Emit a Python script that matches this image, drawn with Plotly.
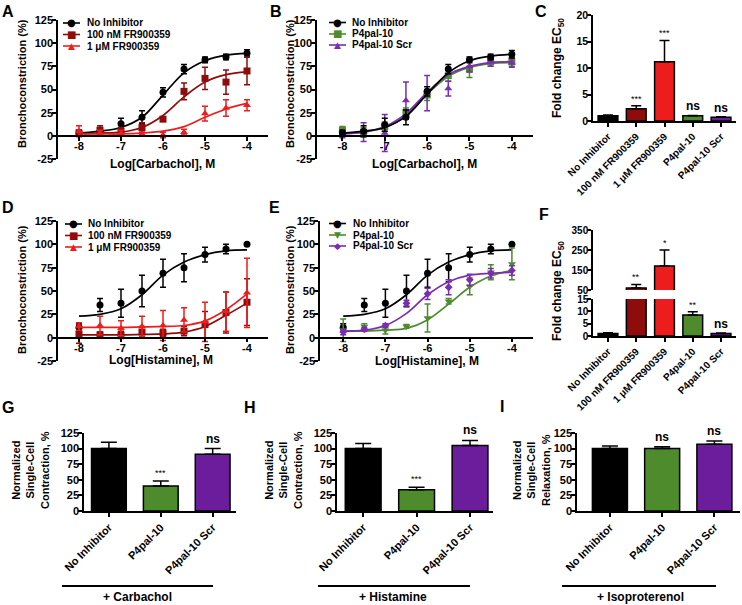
import plotly.graph_objects as go

W, H = 742, 605
FONT = "Liberation Sans, Arial, sans-serif"
SYMFONT = "DejaVu Sans"

BLACK = "#000000"
DRED = "#8e0c0c"
RED = "#ee1d1d"
GREEN = "#4d8b2c"
PURPLE = "#6b1d9c"
PURPLE_L = "#7a2db0"

# ---------------- data ----------------
log_conc = [-8, -7.5, -7, -6.5, -6, -5.5, -5, -4.5, -4]
log_ticks = [-8, -7, -6, -5, -4]
log_tick_text = ["-8", "-7", "-6", "-5", "-4"]
pct_ticks = [-25, 0, 25, 50, 75, 100, 125]
pct_tick_text = ["-25", "0", "25", "50", "75", "100", "125"]

# Panel A (carbachol, FR900359)
A_noinh = [3, 5, 13, 20, 47, 72, 82, 85, 89]
A_noinh_err = [3, 4, 6, 7, 5, 5, 3, 3, 4]
A_noinh_fit = [3, 5, 9, 20, 44, 68, 81, 87, 89]
A_100nm = [3, 6, 5, 9, 18, 48, 62, 58, 70]
A_100nm_err = [3, 5, 4, 5, 2, 9, 12, 13, 15]
A_100nm_fit = [2, 3, 4, 9, 22, 42, 58, 66, 69]
A_1um = [5, 3, 3, 2, 1, 4, 24, 30, 33]
A_1um_err = [6, 3, 3, 2, 3, 3, 8, 9, 6]
A_1um_fit = [2, 2, 2, 3, 5, 10, 20, 29, 35]

# Panel B (carbachol, P4pal-10)
B_noinh = [3, 5, 12, 20, 48, 72, 82, 85, 88]
B_noinh_err = [3, 6, 7, 8, 5, 5, 3, 3, 4]
B_noinh_fit = [3, 5, 9, 21, 45, 68, 81, 86, 88]
B_p4 = [6, 4, 10, 25, 44, 65, 72, 80, 80]
B_p4_err = [4, 5, 5, 5, 6, 6, 9, 5, 5]
B_p4_fit = [3, 4, 9, 22, 45, 64, 74, 78, 79]
B_scr = [2, 4, 3, 38, 46, 51, 75, 80, 79]
B_scr_err = [4, 10, 20, 20, 19, 8, 6, 5, 5]
B_scr_fit = [2, 4, 10, 24, 47, 66, 75, 79, 80]

# Panel D (histamine, FR900359)
D_noinh = [11, 35, 37, 50, 69, 75, 89, 95, 100]
D_noinh_err = [4, 7, 15, 17, 15, 15, 8, 5, 0]
D_noinh_fit = [23, 25, 31, 46, 67, 81, 89, 93, 94]
D_100nm = [4, 3, 3, 6, 5, 7, 14, 27, 38]
D_100nm_err = [10, 3, 4, 6, 4, 5, 14, 22, 25]
D_100nm_fit = [3, 3, 3, 3.5, 4, 6, 12, 24, 37]
D_1um = [12, 13, 10, 12, 13, 19, 17, 28, 48]
D_1um_err = [4, 10, 8, 11, 16, 13, 21, 21, 37]
D_1um_fit = [11, 11, 11, 11.5, 12, 13, 18, 30, 47]

# Panel E (histamine, P4pal-10)
E_p4 = [8, 12, 8, 12, 21, 39, 55, 70, 79]
E_p4_err = [12, 3, 4, 2, 15, 3, 9, 8, 17]
E_p4_fit = [7, 7, 8, 10, 19, 36, 54, 66, 72]
E_scr = [6, 9, 13, 37, 47, 54, 62, 69, 72]
E_scr_err = [3, 2, 2, 3, 6, 8, 6, 5, 5]
E_scr_fit = [7, 8, 13, 26, 46, 60, 67, 69, 70]

# Panels C and F (fold change EC50)
cats5 = ["No Inhibitor", "100 nM FR900359", "1 \u03bcM FR900359", "P4pal-10", "P4pal-10 Scr"]
colors5 = [BLACK, DRED, RED, GREEN, PURPLE]
C_vals = [1.0, 2.3, 11.2, 1.0, 0.7]
C_err = [0.15, 0.6, 4.0, 0.05, 0.1]
C_sig = ["", "***", "***", "ns", "ns"]
F_vals = [1.0, 60, 170, 8.5, 1.0]
F_err = [0.3, 18, 80, 1.3, 0.2]
F_sig = ["", "**", "*", "**", "ns"]

# Panels G, H, I (single-cell)
cats3 = ["No Inhibitor", "P4pal-10", "P4pal-10 Scr"]
colors3 = [BLACK, GREEN, PURPLE]
G_vals = [100, 40, 91]
G_err = [10, 8, 9]
G_sig = ["", "***", "ns"]
H_vals = [100, 34, 105]
H_err = [8, 4, 8]
H_sig = ["", "***", "ns"]
I_vals = [100, 100, 107]
I_err = [4, 3, 5]
I_sig = ["", "ns", "ns"]
bar_ticks = [0, 25, 50, 75, 100, 125]

# ---------------- helpers ----------------
def px_x(a):
    return a / W


def px_y(b):
    return 1 - b / H


def xdom(a, b):
    return [a / W, b / W]


def ydom(top, bottom):
    return [1 - bottom / H, 1 - top / H]


def bold(size, color="black", family=FONT):
    return dict(family=family, size=size, color=color, weight="bold")


axis_base = dict(showline=True, linecolor="black", linewidth=1.5, ticks="outside",
                 ticklen=4, tickwidth=1.5, tickcolor="black", showgrid=False,
                 zeroline=False, tickfont=bold(11), fixedrange=True, automargin=False)
yaxis_base = dict(axis_base, ticklabelstandoff=-3)

fig = go.Figure()
layout = {}
annotations = []
shapes = []


def ax_names(i):
    return ("x" if i == 1 else f"x{i}"), ("xaxis" if i == 1 else f"xaxis{i}")


def yname(i):
    return ("y" if i == 1 else f"y{i}"), ("yaxis" if i == 1 else f"yaxis{i}")


def text_ann(x, y, text, font, xanchor="center", yanchor="middle", angle=0):
    annotations.append(dict(x=px_x(x), y=px_y(y), xref="paper", yref="paper", text=text,
                            showarrow=False, font=font, xanchor=xanchor, yanchor=yanchor,
                            textangle=angle, borderpad=0))


def add_legend(x0, x1, xt, ys, entries):
    for y, (label, color, sym, ssize) in zip(ys, entries):
        shapes.append(dict(type="line", xref="paper", yref="paper", x0=px_x(x0), x1=px_x(x1),
                           y0=px_y(y), y1=px_y(y), line=dict(color=color, width=1.6)))
        text_ann((x0 + x1) / 2, y, sym, dict(family=SYMFONT, size=ssize, color=color))
        text_ann(xt, y, label, bold(10), xanchor="left")


# ---------------- curve panels ----------------
curve_panels = [
    dict(i=1, xd=(58, 268), yd=(20, 159), xr=[-8.5, -3.5],
         series=[(A_noinh, A_noinh_err, A_noinh_fit, BLACK, "circle", 7),
                 (A_100nm, A_100nm_err, A_100nm_fit, DRED, "square", 7),
                 (A_1um, A_1um_err, A_1um_fit, RED, "triangle-up", 7)]),
    dict(i=2, xd=(317, 533), yd=(20, 159), xr=[-8.6, -3.5],
         series=[(B_p4, B_p4_err, B_p4_fit, GREEN, "square", 7),
                 (B_scr, B_scr_err, B_scr_fit, PURPLE_L, "triangle-up", 7),
                 (B_noinh, B_noinh_err, B_noinh_fit, BLACK, "circle", 7)]),
    dict(i=4, xd=(58, 268), yd=(221, 361), xr=[-8.5, -3.5],
         series=[(D_noinh, D_noinh_err, D_noinh_fit, BLACK, "circle", 7),
                 (D_100nm, D_100nm_err, D_100nm_fit, DRED, "square", 7),
                 (D_1um, D_1um_err, D_1um_fit, RED, "triangle-up", 7)]),
    dict(i=5, xd=(320, 533), yd=(221, 361), xr=[-8.55, -3.5],
         series=[(D_noinh, D_noinh_err, D_noinh_fit, BLACK, "circle", 7),
                 (E_p4, E_p4_err, E_p4_fit, GREEN, "triangle-down", 7),
                 (E_scr, E_scr_err, E_scr_fit, PURPLE_L, "diamond", 6)]),
]

for p in curve_panels:
    xn, xk = ax_names(p["i"])
    yn, yk = yname(p["i"])
    for yv, ev, fv, col, sym, sz in p["series"]:
        fig.add_trace(go.Scatter(x=log_conc, y=fv, mode="lines", xaxis=xn, yaxis=yn,
                                 line=dict(color=col, width=1.7, shape="spline"),
                                 showlegend=False, hoverinfo="skip"))
        fig.add_trace(go.Scatter(x=log_conc, y=yv, mode="markers", xaxis=xn, yaxis=yn,
                                 marker=dict(color=col, symbol=sym, size=sz),
                                 error_y=dict(type="data", array=ev, color=col,
                                              thickness=1.5, width=3),
                                 showlegend=False, hoverinfo="skip"))
    top, bottom = p["yd"]
    zero_py = top + 125 / 150 * (bottom - top)
    layout[xk] = dict(axis_base, domain=xdom(*p["xd"]), range=p["xr"], tickvals=log_ticks,
                      ticktext=log_tick_text, anchor="free", position=px_y(zero_py),
                      ticklabelstandoff=-4)
    layout[yk] = dict(yaxis_base, domain=ydom(*p["yd"]), range=[-25, 125], tickvals=pct_ticks,
                      ticktext=pct_tick_text, anchor=xn)

# axis titles for curve panels
text_ann(22, 84, "Bronchoconstriction (%)", bold(11), angle=-90)
text_ann(290, 84, "Bronchoconstriction (%)", bold(11), angle=-90)
text_ann(22, 290, "Bronchoconstriction (%)", bold(11), angle=-90)
text_ann(290, 290, "Bronchoconstriction (%)", bold(11), angle=-90)
text_ann(162, 164, "Log[Carbachol], M", bold(12))
text_ann(424, 164, "Log[Carbachol], M", bold(12))
text_ann(161, 360, "Log[Histamine], M", bold(12))
text_ann(427, 361, "Log[Histamine], M", bold(12))

# legends
add_legend(63, 80, 86, [23, 34.5, 46],
           [("No Inhibitor", BLACK, "\u25cf", 10), ("100 nM FR900359", DRED, "\u25a0", 10),
            ("1 \u03bcM FR900359", RED, "\u25b2", 9)])
add_legend(329, 346, 351, [22.5, 34, 45],
           [("No Inhibitor", BLACK, "\u25cf", 10), ("P4pal-10", GREEN, "\u25a0", 10),
            ("P4pal-10 Scr", PURPLE_L, "\u25b2", 9)])
add_legend(65, 82, 87, [224, 235.5, 247],
           [("No Inhibitor", BLACK, "\u25cf", 10), ("100 nM FR900359", DRED, "\u25a0", 10),
            ("1 \u03bcM FR900359", RED, "\u25b2", 9)])
add_legend(329, 346, 352, [223.5, 235, 246],
           [("No Inhibitor", BLACK, "\u25cf", 10), ("P4pal-10", GREEN, "\u25bc", 9),
            ("P4pal-10 Scr", PURPLE_L, "\u25c6", 9)])

# ---------------- panel C ----------------
fig.add_trace(go.Bar(x=cats5, y=C_vals, xaxis="x3", yaxis="y3", width=0.7,
                     marker=dict(color=colors5, line=dict(color="black", width=1.5)),
                     error_y=dict(type="data", array=C_err, arrayminus=[0] * 5, symmetric=False,
                                  color="black", thickness=1.5, width=5),
                     showlegend=False, hoverinfo="skip"))
layout["xaxis3"] = dict(axis_base, domain=xdom(593, 736), range=[-0.53, 4.53], type="category",
                        tickangle=-45, tickfont=bold(10), anchor="y3")
layout["yaxis3"] = dict(yaxis_base, domain=ydom(15, 121), range=[0, 20], tickfont=bold(10.5),
                        tickvals=[0, 5, 10, 15, 20], anchor="x3")
for c, v, e, s in zip(cats5, C_vals, C_err, C_sig):
    if s:
        annotations.append(dict(x=c, y=v + e, xref="x3", yref="y3", text=s, showarrow=False,
                                yanchor="bottom", yshift=0,
                                font=bold(12) if s == "ns" else dict(family=FONT, size=9, color="black")))
text_ann(558, 68, "Fold change EC<sub>50</sub>", bold(12), angle=-90)

# ---------------- panel F (broken axis) ----------------
for yn_ in ["y6", "y7"]:
    fig.add_trace(go.Bar(x=cats5, y=F_vals, xaxis="x6", yaxis=yn_, width=0.7,
                         marker=dict(color=colors5, line=dict(color="black", width=1.5)),
                         error_y=dict(type="data", array=F_err, arrayminus=[0] * 5, symmetric=False,
                                      color="black", thickness=1.5, width=5),
                         showlegend=False, hoverinfo="skip"))
layout["xaxis6"] = dict(axis_base, domain=xdom(593, 736), range=[-0.53, 4.53], type="category",
                        tickangle=-45, tickfont=bold(10), anchor="y6")
layout["yaxis6"] = dict(yaxis_base, domain=ydom(299, 336), range=[0, 15], tickfont=bold(10),
                        tickvals=[0, 5, 10, 15], anchor="x6")
layout["yaxis7"] = dict(yaxis_base, domain=ydom(230, 290), range=[50, 350], tickfont=bold(10),
                        tickvals=[50, 150, 250, 350], anchor="x6")
for c, v, e, s in zip(cats5, F_vals, F_err, F_sig):
    if s:
        annotations.append(dict(x=c, y=v + e, xref="x6", yref="y7" if v + e > 15 else "y6",
                                text=s, showarrow=False, yanchor="bottom", yshift=0,
                                font=bold(12) if s == "ns" else dict(family=FONT, size=9, color="black")))
text_ann(558, 291, "Fold change EC<sub>50</sub>", bold(12), angle=-90)

# ---------------- panels G, H, I ----------------
bar_panels = [
    dict(x="x7", xk="xaxis7", y="y8", yk="yaxis8", xd=(84, 236), xr=[-0.48, 2.45],
         vals=G_vals, err=G_err, sig=G_sig),
    dict(x="x8", xk="xaxis8", y="y9", yk="yaxis9", xd=(337, 493), xr=[-0.49, 2.43],
         vals=H_vals, err=H_err, sig=H_sig),
    dict(x="x9", xk="xaxis9", y="y10", yk="yaxis10", xd=(577, 740), xr=[-0.63, 2.49],
         vals=I_vals, err=I_err, sig=I_sig),
]
for p in bar_panels:
    fig.add_trace(go.Bar(x=cats3, y=p["vals"], xaxis=p["x"], yaxis=p["y"], width=0.67,
                         marker=dict(color=colors3, line=dict(color="black", width=1.5)),
                         error_y=dict(type="data", array=p["err"], arrayminus=[0] * 3,
                                      symmetric=False, color="black", thickness=1.5, width=8),
                         showlegend=False, hoverinfo="skip"))
    layout[p["xk"]] = dict(axis_base, domain=xdom(*p["xd"]), range=p["xr"], type="category",
                           tickangle=-45, tickfont=bold(11), anchor=p["y"])
    layout[p["yk"]] = dict(yaxis_base, domain=ydom(433, 511), range=[0, 125], tickvals=bar_ticks,
                           anchor=p["x"])
    for c, v, e, s in zip(cats3, p["vals"], p["err"], p["sig"]):
        if s:
            annotations.append(dict(x=c, y=v + e, xref=p["x"], yref=p["y"], text=s,
                                    showarrow=False, yanchor="bottom", yshift=1,
                                    font=bold(12) if s == "ns" else dict(family=FONT, size=9, color="black")))

text_ann(30, 470, "Normalized<br>Single-Cell<br>Contraction, %", bold(11), angle=-90)
text_ann(283, 470, "Normalized<br>Single-Cell<br>Contraction, %", bold(11), angle=-90)
text_ann(531, 470, "Normalized<br>Single-Cell<br>Relaxation, %", bold(11), angle=-90)

for x0, x1, xc, label in [(62, 213, 137, "+ Carbachol"), (318, 470, 393, "+ Histamine"),
                          (562, 716, 640, "+ Isoproterenol")]:
    shapes.append(dict(type="line", xref="paper", yref="paper", x0=px_x(x0), x1=px_x(x1),
                       y0=px_y(586), y1=px_y(586), line=dict(color="black", width=2)))
    text_ann(xc, 597, label, bold(12))

# panel letters
for letter, x, y in [("A", 8, 11), ("B", 276, 11), ("C", 541, 11), ("D", 8, 207), ("E", 274, 207),
                     ("F", 544, 215), ("G", 8, 407), ("H", 250, 407), ("I", 502, 406)]:
    text_ann(x, y, letter, bold(16))

fig.update_layout(template="none", width=W, height=H, margin=dict(l=0, r=0, t=0, b=0, pad=0),
                  paper_bgcolor="white", plot_bgcolor="white", showlegend=False,
                  annotations=annotations, shapes=shapes, bargap=0.3, hovermode=False,
                  font=dict(family=FONT, color="black"), **layout)

fig.write_html("out.html", config={"displayModeBar": False},
               post_script="document.body.style.margin='0px';")
